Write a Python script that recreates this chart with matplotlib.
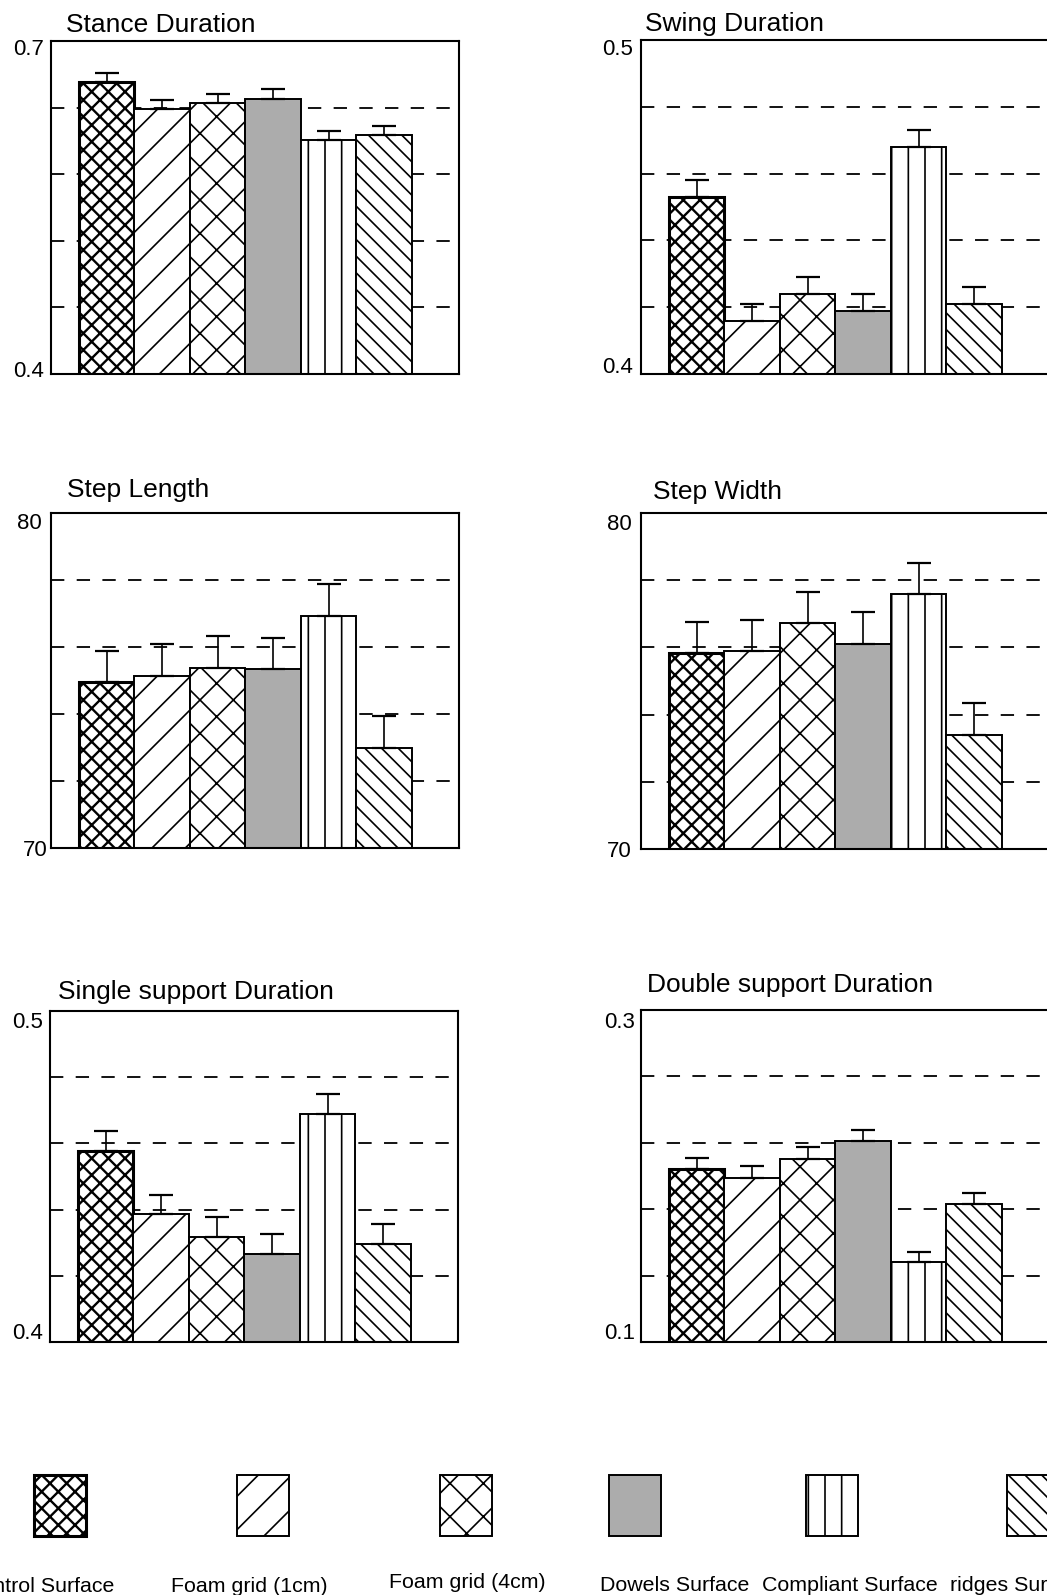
import numpy as np
import matplotlib
matplotlib.use("Agg")
import matplotlib.pyplot as plt
from matplotlib.patches import Rectangle
from matplotlib.transforms import ScaledTranslation

plt.rcParams['font.family'] = 'Liberation Sans'
plt.rcParams['hatch.linewidth'] = 1.2
plt.rcParams['lines.scale_dashes'] = False

## DATA: means and upper error (SE) per surface
surfaces = ['Control Surface', 'Foam grid (1cm)', 'Foam grid (4cm)',
            'Dowels Surface', 'Compliant Surface', 'ridges Surface']

stance_mean = [0.663, 0.639, 0.644, 0.648, 0.611, 0.615]
stance_err = [0.008, 0.008, 0.008, 0.009, 0.008, 0.008]

swing_mean = [0.453, 0.416, 0.424, 0.419, 0.468, 0.421]
swing_err = [0.005, 0.005, 0.005, 0.005, 0.005, 0.005]

steplen_mean = [74.95, 75.14, 75.38, 75.34, 76.94, 73.00]
steplen_err = [0.92, 0.96, 0.94, 0.94, 0.94, 0.93]

stepwid_mean = [75.84, 75.88, 76.72, 76.11, 77.59, 73.40]
stepwid_err = [0.91, 0.95, 0.92, 0.93, 0.92, 0.94]

single_mean = [0.4578, 0.4387, 0.4318, 0.4267, 0.4690, 0.4297]
single_err = [0.0060, 0.0057, 0.0059, 0.0060, 0.0059, 0.0060]

double_mean = [0.2041, 0.1989, 0.2101, 0.2212, 0.1479, 0.1830]
double_err = [0.0070, 0.0072, 0.0073, 0.0066, 0.0066, 0.0070]

titles = ['Stance Duration', 'Swing Duration', 'Step Length',
          'Step Width', 'Single support Duration', 'Double support Duration']
ylims = [(0.4, 0.7), (0.4, 0.5), (70, 80), (70, 80), (0.4, 0.5), (0.1, 0.3)]
ylabels = [('0.4', '0.7'), ('0.4', '0.5'), ('70', '80'), ('70', '80'),
           ('0.4', '0.5'), ('0.1', '0.3')]

## STYLE
hatches = ['xx', '/', 'x', '', '|', '\\\\']
faces = ['white', 'white', 'white', '#acacac', 'white', 'white']
edge_lw = [2.2, 1.4, 1.4, 1.4, 1.4, 1.4]
hatch_lw = [1.7, 1.2, 1.2, 1.2, 1.2, 1.2]

W, H = 1047, 1595
fig = plt.figure(figsize=(W / 100, H / 100), dpi=100)

# panel boxes in pixels: left, top, bottom
boxes = [(51, 41, 374), (641, 40, 374), (51, 513, 848),
         (641, 513, 849), (50, 1011, 1342), (641, 1010, 1342)]
# title anchor in pixels (left, baseline)
title_pos = [(66, 32), (645, 31), (67, 497), (653, 499), (58, 999), (647, 992)]
# tick label nudges in pixels (dx, dy) for (low, high) label, dy positive = up
label_nudge = [((2, 5), (2, -6)), ((1, 9), (1, -7)), ((6, 0), (0, -8)),
               ((0, 0), (0, -9)), ((2, 11), (2, -9)), ((3, 11), (3, -10))]

means = [stance_mean, swing_mean, steplen_mean, stepwid_mean, single_mean, double_mean]
errs = [stance_err, swing_err, steplen_err, stepwid_err, single_err, double_err]

x = np.arange(len(surfaces))


def style_patch(p, i):
    p.set_hatch(hatches[i])
    p.set_linewidth(edge_lw[i])
    if hasattr(p, 'set_hatch_linewidth'):
        p.set_hatch_linewidth(hatch_lw[i])


for k in range(6):
    left, top, bottom = boxes[k]
    ax = fig.add_axes([left / W, 1 - bottom / H, 408 / W, (bottom - top) / H])
    lo, hi = ylims[k]

    # dashed reference lines behind bars
    for lev in np.linspace(lo, hi, 6)[1:-1]:
        ax.axhline(lev, color='black', lw=1.3, ls=(0, (9.6, 8.9)), zorder=0.5)

    bars = ax.bar(x, means[k], width=1.0, bottom=0, color=faces,
                  edgecolor='black', zorder=2)
    for i, b in enumerate(bars):
        style_patch(b, i)

    e = np.array(errs[k])
    ax.errorbar(x, means[k], yerr=[np.zeros_like(e), e], fmt='none',
                ecolor='black', elinewidth=1.2, capsize=8.3, capthick=1.6, zorder=3)

    ax.set_xlim(-1.0, 6.35)
    ax.set_ylim(lo, hi)
    ax.set_xticks([])
    ax.set_yticks([lo, hi])
    ax.set_yticklabels(ylabels[k], fontsize=16)
    ax.tick_params(axis='y', length=0, pad=6.5)
    for sp in ax.spines.values():
        sp.set_linewidth(1.5)

    for lab, (dx, dy) in zip(ax.get_yticklabels(), label_nudge[k]):
        lab.set_transform(lab.get_transform() +
                          ScaledTranslation(dx / 100, dy / 100, fig.dpi_scale_trans))

    tx, ty = title_pos[k]
    fig.text(tx / W, 1 - ty / H, titles[k], fontsize=19, va='baseline', ha='left')

# legend row: swatches and labels
sw_left = [34, 237, 440, 609, 806, 1007]
lab_x = [40, 249, 467, 675, 850, 950]
lab_ha = ['center', 'center', 'center', 'center', 'center', 'left']
lab_y = [1592, 1592, 1588, 1591, 1591, 1591]
for i in range(len(surfaces)):
    r = Rectangle((sw_left[i] / W, 1 - 1536 / H), 52 / W, 61 / H,
                  transform=fig.transFigure, facecolor=faces[i], edgecolor='black')
    style_patch(r, i)
    fig.add_artist(r)
    fig.text(lab_x[i] / W, 1 - lab_y[i] / H, surfaces[i], fontsize=15.4,
             ha=lab_ha[i], va='baseline')

fig.savefig('out.png', dpi=100)
